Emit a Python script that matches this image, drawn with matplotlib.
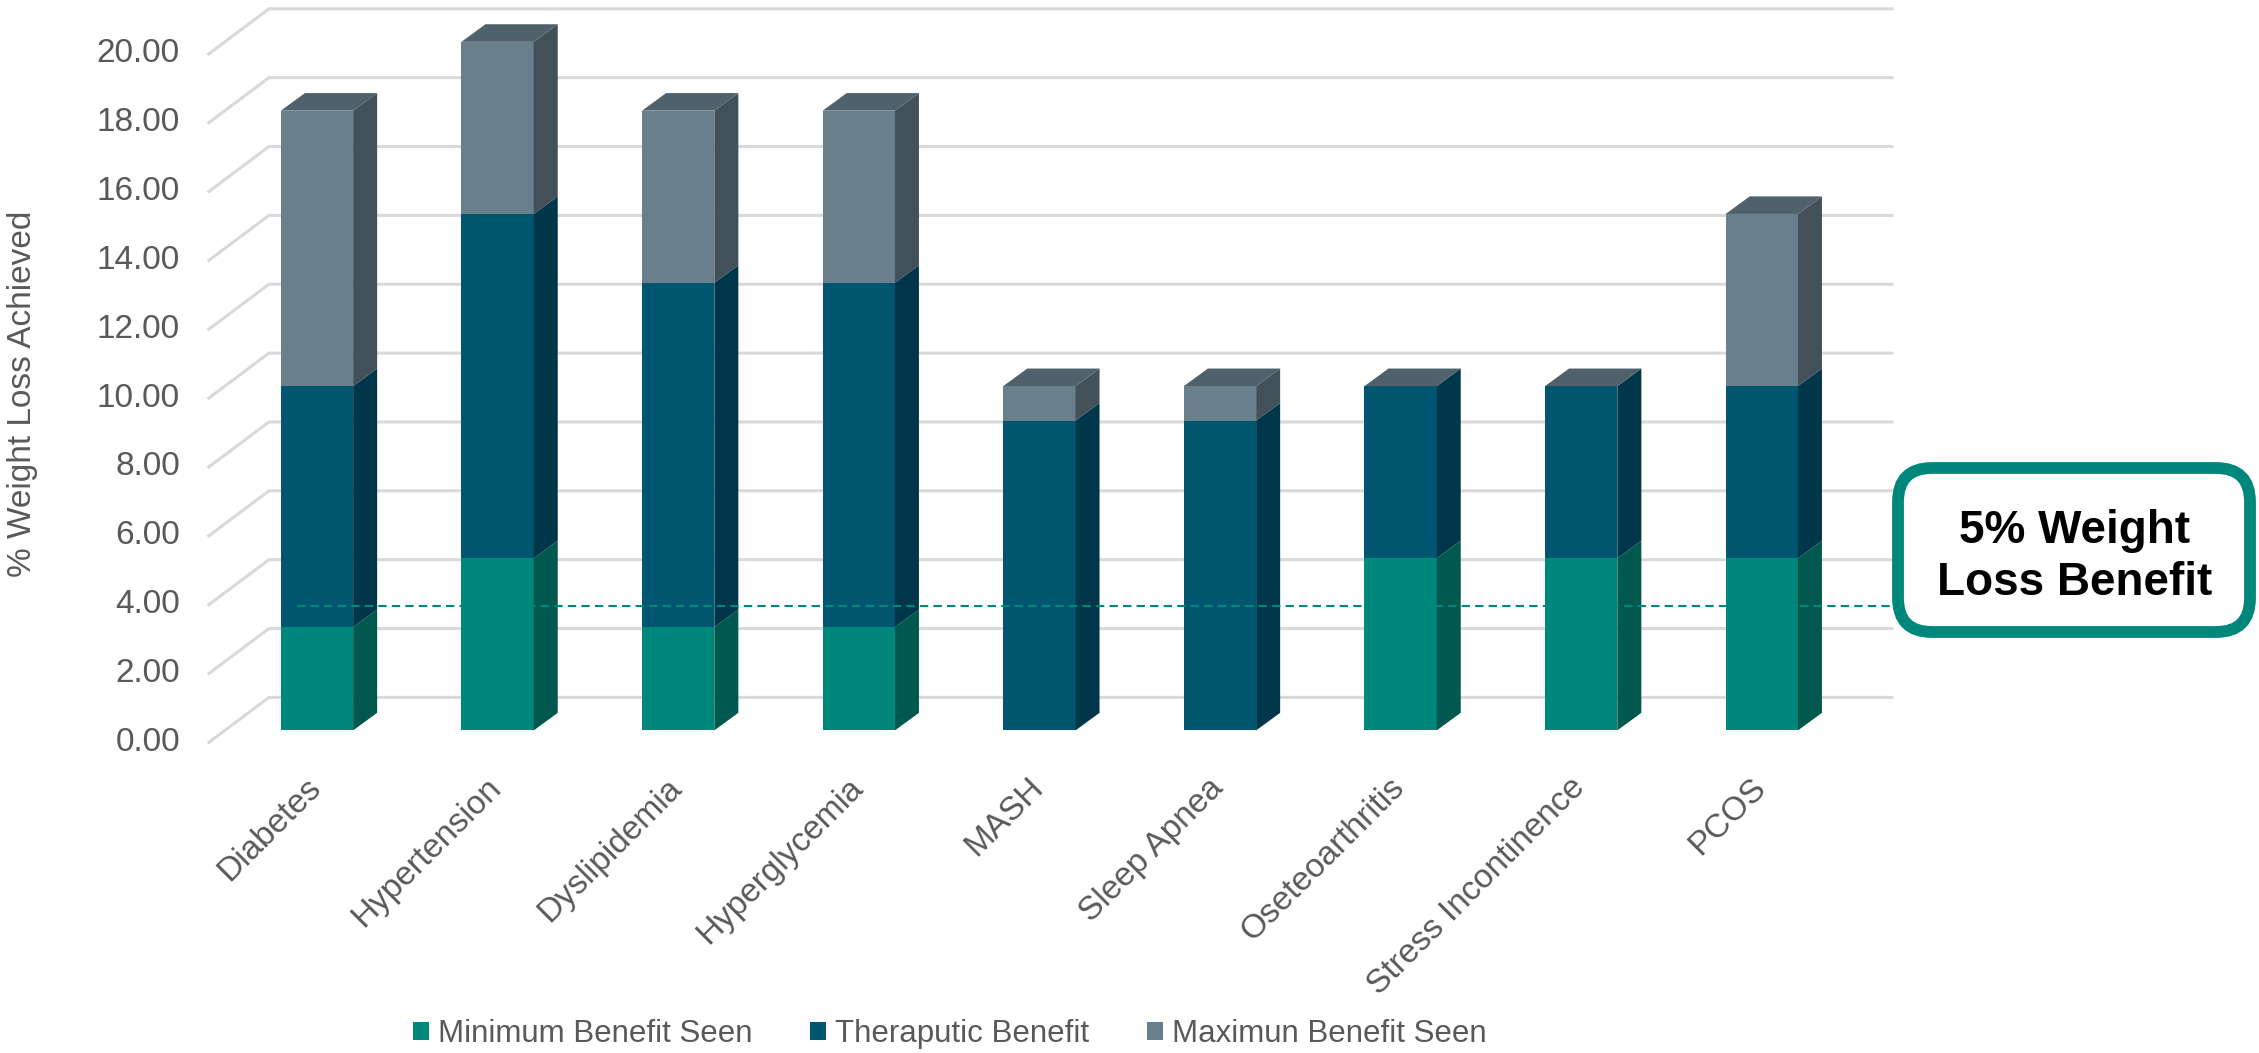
import matplotlib.pyplot as plt
from matplotlib.patches import Rectangle, Polygon, FancyBboxPatch, Patch
from matplotlib.transforms import IdentityTransform

plt.rcParams['font.family'] = ['Liberation Sans', 'DejaVu Sans']

conditions = ['Diabetes', 'Hypertension', 'Dyslipidemia', 'Hyperglycemia', 'MASH',
              'Sleep Apnea', 'Oseteoarthritis', 'Stress Incontinence', 'PCOS']
minimum_benefit = [3, 5, 3, 3, 0, 0, 5, 5, 5]
theraputic_benefit = [7, 10, 10, 10, 9, 9, 5, 5, 5]
maximum_benefit = [8, 5, 5, 5, 1, 1, 0, 0, 5]
series_names = ['Minimum Benefit Seen', 'Theraputic Benefit', 'Maximun Benefit Seen']
y_ticks = [0, 2, 4, 6, 8, 10, 12, 14, 16, 18, 20]
benefit_line = 3.6

front_colors = ['#00877b', '#00566f', '#6a7f8c']
side_colors = ['#00584f', '#00364a', '#415059']
top_color = '#4f616b'
grid_color = '#d9d9d9'
text_color = '#595959'

# 3d look: offsets (data units) of the bar sides, front floor edge and back wall
bar_w = 0.4
bar_dx, bar_dy = 0.133, 0.51
front_dx, front_dy = -0.089, -0.349
back_dx, back_dy = 0.244, 0.958
wall_left = -0.51
wall_right = 8.72

fig = plt.figure(figsize=(22.59, 10.53), dpi=100)
ax = fig.add_axes([0, 0, 1, 1])
ax.set_xlim(-317 / 180.6, (2259 - 317) / 180.6)
ax.set_ylim((730.4 - 1053) / 34.43, 730.4 / 34.43)
ax.axis('off')

# gridlines on back wall plus the diagonal floor/side lines
for v in y_ticks:
    fx, fy = wall_left + front_dx, v + front_dy
    bx, by = wall_left + back_dx, v + back_dy
    ax.plot([fx, bx, wall_right], [fy, by, by], color=grid_color, lw=2.2,
            solid_joinstyle='miter', zorder=1)
    ax.text(fx - 0.16, fy, f'{v:.2f}', ha='right', va='center',
            fontsize=24, color=text_color)

ax.text(-1.63, 9.77, '% Weight Loss Achieved', rotation=90, ha='center',
        va='center', fontsize=24, color=text_color)

stacks = [minimum_benefit, theraputic_benefit, maximum_benefit]
for i in range(len(conditions)):
    bottom = 0
    top_total = sum(s[i] for s in stacks)
    left, right = i - bar_w / 2, i + bar_w / 2
    for k, s in enumerate(stacks):
        h = s[i]
        if h <= 0:
            continue
        ax.add_patch(Rectangle((left, bottom), bar_w, h, facecolor=front_colors[k],
                               edgecolor='none', zorder=3))
        ax.add_patch(Polygon([(right, bottom), (right + bar_dx, bottom + bar_dy),
                              (right + bar_dx, bottom + h + bar_dy), (right, bottom + h)],
                             closed=True, facecolor=side_colors[k], edgecolor='none', zorder=3))
        bottom += h
    ax.add_patch(Polygon([(left, top_total), (left + bar_dx, top_total + bar_dy),
                          (right + bar_dx, top_total + bar_dy), (right, top_total)],
                         closed=True, facecolor=top_color, edgecolor='none', zorder=3))
    ax.text(i - 0.066, -1.21, conditions[i], rotation=45, rotation_mode='anchor',
            ha='right', va='top', fontsize=24, color=text_color)

# 5% benefit marker
ax.plot([-0.11, wall_right], [benefit_line, benefit_line], color='#00877b', lw=1.5,
        dashes=(4, 2.5), zorder=5)

box = FancyBboxPatch((1898, 1053 - 632), 352, 164,
                     boxstyle='round,pad=0,rounding_size=34',
                     transform=IdentityTransform(), facecolor='white',
                     edgecolor='#00877b', linewidth=8.5, zorder=6)
fig.add_artist(box)
fig.text(2075 / 2259, 1 - 557 / 1053, '5% Weight\nLoss Benefit', ha='center', va='center',
         fontsize=33, fontweight='bold', color='black', linespacing=1.25, zorder=7)

handles = [Patch(facecolor=c, edgecolor='none') for c in front_colors]
fig.legend(handles, series_names, loc='center left', bbox_to_anchor=(413 / 2259, 1 - 1034 / 1053),
           ncol=3, frameon=False, fontsize=22.5, labelcolor=text_color, borderpad=0,
           borderaxespad=0, handlelength=0.5, handleheight=0.5, handletextpad=0.3,
           columnspacing=1.85)

fig.savefig('out.png', dpi=100)
